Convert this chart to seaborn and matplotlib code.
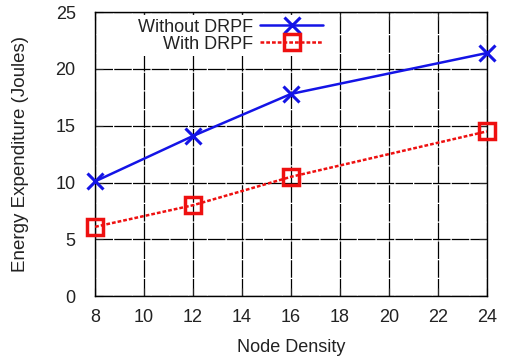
import pandas as pd
import seaborn as sns
import matplotlib.pyplot as plt

node_density = [8, 12, 16, 24]
without_drpf = [10.1, 14.1, 17.8, 21.4]
with_drpf = [6.1, 8.0, 10.5, 14.5]

sns.set_style('ticks')
plt.rcParams['font.family'] = ['Liberation Sans', 'DejaVu Sans']

fig = plt.figure(figsize=(5.06, 3.58), dpi=100)
ax = fig.add_axes([0.188, 0.173, 0.774, 0.793])

df1 = pd.DataFrame({'x': node_density, 'y': without_drpf})
df2 = pd.DataFrame({'x': node_density, 'y': with_drpf})

blue = '#1414e6'
red = '#ee1010'
sns.lineplot(data=df1, x='x', y='y', ax=ax, color=blue, lw=1.8,
             marker='x', markersize=11, markeredgewidth=2.2,
             markeredgecolor=blue, label='Without DRPF', zorder=5, clip_on=False)
sns.lineplot(data=df2, x='x', y='y', ax=ax, color=red, lw=1.8,
             linestyle=(0, (1.5, 0.8)), marker='s', markersize=11,
             markerfacecolor='none', markeredgewidth=2.5,
             markeredgecolor=red, label='With DRPF', zorder=5, clip_on=False)

ax.set_xlim(8, 24)
ax.set_ylim(0, 25)
ax.set_xticks(range(8, 25, 2))
ax.set_yticks(range(0, 26, 5))
ax.grid(True, color='black', lw=0.9, linestyle=(0, (14, 1)))
ax.tick_params(direction='in', top=True, right=True, labelsize=13, length=6,
               labelcolor='#222222')
ax.tick_params(axis='x', pad=9)
ax.tick_params(axis='y', pad=14)
for s in ax.spines.values():
    s.set_color('black')
    s.set_linewidth(1.0)

ax.set_xlabel('Node Density', fontsize=13, color='#222222', labelpad=10)
ax.set_ylabel('Energy Expenditure (Joules)', fontsize=13.5, color='#222222', labelpad=19)

leg = ax.legend(loc='upper right', bbox_to_anchor=(0.615, 1.022), markerfirst=False,
                frameon=True, fontsize=13, handlelength=3.5, labelspacing=0.0,
                borderpad=0.2, handletextpad=0.4, fancybox=False)
leg.get_frame().set_edgecolor('none')
leg.get_frame().set_facecolor('white')
leg.get_frame().set_alpha(1)
leg.set_zorder(2.4)
for t in leg.get_texts():
    t.set_color('#222222')
leg._legend_box.align = 'right'

plt.savefig('out.png', dpi=100)
plt.close()
